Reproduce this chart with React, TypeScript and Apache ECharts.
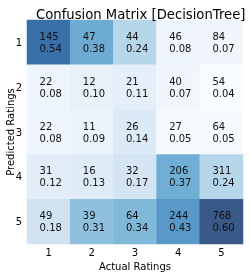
import React, { useEffect, useRef } from "react";
import * as echarts from "echarts";

const actualLabels = ["1", "2", "3", "4", "5"];
const predictedLabels = ["1", "2", "3", "4", "5"];

// counts[row = predicted][col = actual]
const counts = [
  [145, 47, 44, 46, 84],
  [22, 12, 21, 40, 54],
  [22, 11, 26, 27, 64],
  [31, 16, 32, 206, 311],
  [49, 39, 64, 244, 768],
];

// column-normalised ratios as shown
const ratios = [
  [0.54, 0.38, 0.24, 0.08, 0.07],
  [0.08, 0.1, 0.11, 0.07, 0.04],
  [0.08, 0.09, 0.14, 0.05, 0.05],
  [0.12, 0.13, 0.17, 0.37, 0.24],
  [0.18, 0.31, 0.34, 0.43, 0.6],
];

// matplotlib "Blues" blended with white at alpha 0.8
const bluesAlpha = [
  "#f9fcff",
  "#e5eff9",
  "#d1e2f2",
  "#b1d5e7",
  "#89bede",
  "#68a8d1",
  "#4d8dc4",
  "#3974b0",
  "#395988",
];

export default function App() {
  const ref = useRef<HTMLDivElement>(null);
  useEffect(() => {
    if (!ref.current) return;
    const chart = echarts.init(ref.current, null, { renderer: "svg" });
    const data: any[] = [];
    counts.forEach((row, r) =>
      row.forEach((c, ci) => {
        data.push([ci, r, ratios[r][ci], c]);
      })
    );
    const flat = ratios.flat();
    const font = "DejaVu Sans";
    chart.setOption({
      animation: false,
      title: {
        text: "Confusion Matrix [DecisionTree]",
        left: 31,
        top: 3,
        textStyle: { fontFamily: font, fontSize: 13.2, fontWeight: "normal", color: "#000" },
      },
      graphic: [
        {
          type: "text",
          x: 10,
          y: 132,
          rotation: Math.PI / 2,
          style: {
            text: "Predicted Ratings",
            fontFamily: font,
            fontSize: 10,
            fill: "#000",
            align: "center",
            verticalAlign: "middle",
          },
        },
      ],
      grid: { left: 27, right: 7, top: 20, bottom: 31, outerBoundsMode: "none", containLabel: false },
      xAxis: {
        type: "category",
        data: actualLabels,
        position: "bottom",
        name: "Actual Ratings",
        nameLocation: "middle",
        nameGap: 15,
        nameTextStyle: { fontFamily: font, fontSize: 10, color: "#000" },
        axisLine: { show: false },
        axisTick: { show: false },
        splitLine: { show: false },
        axisLabel: { fontFamily: font, fontSize: 10, color: "#000", margin: 3 },
      },
      yAxis: {
        type: "category",
        data: predictedLabels,
        inverse: true,
        axisLine: { show: false },
        axisTick: { show: false },
        splitLine: { show: false },
        axisLabel: { fontFamily: font, fontSize: 10, color: "#000", margin: 5 },
      },
      visualMap: {
        show: false,
        type: "continuous",
        dimension: 2,
        min: Math.min(...flat),
        max: Math.max(...flat),
        inRange: { color: bluesAlpha },
      },
      series: [
        {
          type: "heatmap",
          data,
          itemStyle: { borderWidth: 0 },
          label: {
            show: true,
            position: "inside",
            align: "left",
            offset: [-9, 0],
            fontFamily: font,
            fontSize: 10,
            lineHeight: 12,
            color: "#111",
            formatter: (p: any) => `${p.value[3]}\n${p.value[2].toFixed(2)}`,
          },
          emphasis: { disabled: true },
        },
      ],
    });
    return () => chart.dispose();
  }, []);
  return (
    <div
      ref={ref}
      style={{ position: "fixed", left: 0, top: 0, width: 250, height: 275 }}
    />
  );
}
